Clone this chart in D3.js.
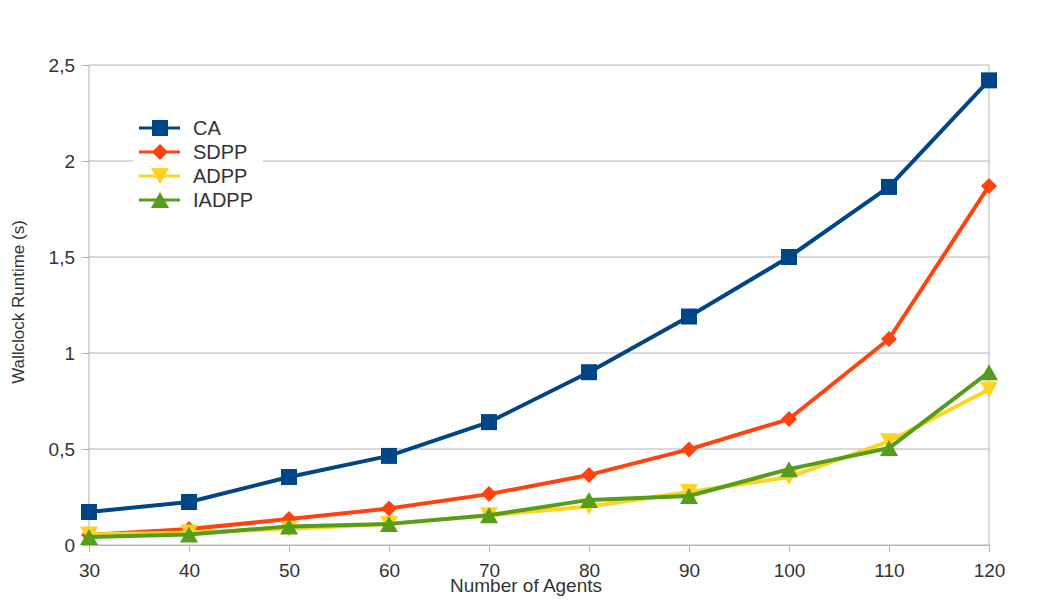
<!DOCTYPE html>
<html>
<head>
<meta charset="utf-8">
<script src="https://cdn.jsdelivr.net/npm/d3@7"></script>
<style>
body { margin: 0; background: #fff; }
text { font-family: "Liberation Sans", Arial, sans-serif; fill: #333; }
</style>
</head>
<body>
<svg id="chart" width="1050" height="600"></svg>
<script>
var agents = [30, 40, 50, 60, 70, 80, 90, 100, 110, 120];
var caVals = [0.172, 0.224, 0.354, 0.464, 0.64, 0.90, 1.19, 1.50, 1.865, 2.42];
var sdppVals = [0.052, 0.083, 0.135, 0.19, 0.265, 0.365, 0.498, 0.656, 1.073, 1.87];
var adppVals = [0.055, 0.065, 0.085, 0.11, 0.155, 0.20, 0.276, 0.354, 0.54, 0.81];
var iadppVals = [0.042, 0.055, 0.097, 0.11, 0.155, 0.235, 0.255, 0.395, 0.505, 0.90];
var seriesNames = ["CA", "SDPP", "ADPP", "IADPP"];
var seriesColors = ["#004586", "#ff420e", "#ffd320", "#579d1c"];
var yTicks = [0, 0.5, 1, 1.5, 2, 2.5];
var yTickLabels = ["0", "0,5", "1", "1,5", "2", "2,5"];

var svg = d3.select("#chart");
var x = d3.scaleLinear().domain([30, 120]).range([89, 989]);
var y = d3.scaleLinear().domain([0, 2.5]).range([545, 65]);

// gridlines
svg.append("g").selectAll("line")
.data(yTicks)
.enter().append("line")
.attr("x1", 89).attr("x2", 989)
.attr("y1", d => y(d)).attr("y2", d => y(d))
.attr("stroke", "#b3b3b3").attr("stroke-width", 1);

svg.append("line")
.attr("x1", 989).attr("x2", 989).attr("y1", 65).attr("y2", 545)
.attr("stroke", "#b3b3b3");

var yAxis = d3.axisLeft(y).tickValues(yTicks)
.tickFormat((d, i) => yTickLabels[i]).tickSize(7).tickPadding(7);
var gy = svg.append("g").attr("transform", "translate(89,0)").call(yAxis);

var xAxis = d3.axisBottom(x).tickValues(agents).tickSize(7).tickPadding(12);
var gx = svg.append("g").attr("transform", "translate(0,545)").call(xAxis);

[gx, gy].forEach(g => {
  g.selectAll("path, line").attr("stroke", "#b3b3b3");
  g.selectAll("text").style("font-size", "19px").attr("fill", "#333");
});
gy.select(".domain").attr("d", "M0,65V545");

svg.append("text")
.attr("transform", "translate(24,302) rotate(-90)")
.attr("text-anchor", "middle")
.style("font-size", "17px")
.text("Wallclock Runtime (s)");

svg.append("text")
.attr("x", 526).attr("y", 592)
.attr("text-anchor", "middle")
.style("font-size", "19px")
.text("Number of Agents");

var allVals = [caVals, sdppVals, adppVals, iadppVals];
var line = d3.line().x((d, i) => x(agents[i])).y(d => y(d));

function marker(sel, k, cx, cy) {
  var c = seriesColors[k];
  if (k == 0) {
    sel.append("rect").attr("x", cx - 8).attr("y", cy - 8).attr("width", 16).attr("height", 16).attr("fill", c);
  } else if (k == 1) {
    sel.append("path").attr("d", `M${cx},${cy-8}L${cx+8},${cy}L${cx},${cy+8}L${cx-8},${cy}Z`).attr("fill", c);
  } else if (k == 2) {
    sel.append("path").attr("d", `M${cx-9},${cy-8}L${cx+9},${cy-8}L${cx},${cy+8}Z`).attr("fill", c);
  } else {
    sel.append("path").attr("d", `M${cx-9},${cy+8}L${cx+9},${cy+8}L${cx},${cy-8}Z`).attr("fill", c);
  }
}

allVals.forEach((vals, k) => {
  var g = svg.append("g");
  g.append("path").datum(vals)
  .attr("d", line)
  .attr("fill", "none")
  .attr("stroke", seriesColors[k])
  .attr("stroke-width", 4)
  .attr("stroke-linejoin", "round");
  vals.forEach((v, i) => marker(g, k, x(agents[i]), y(v)));
});

// legend
var lg = svg.append("g");
lg.append("rect").attr("x", 133).attr("y", 115).attr("width", 130).attr("height", 97).attr("fill", "#fff");
seriesNames.forEach((name, k) => {
  var ly = 128 + k * 24;
  lg.append("line").attr("x1", 139).attr("x2", 180).attr("y1", ly).attr("y2", ly)
  .attr("stroke", seriesColors[k]).attr("stroke-width", 3);
  marker(lg, k, 160, ly);
  lg.append("text").attr("x", 193).attr("y", ly + 7).style("font-size", "20px").text(name);
});
</script>
</body>
</html>
